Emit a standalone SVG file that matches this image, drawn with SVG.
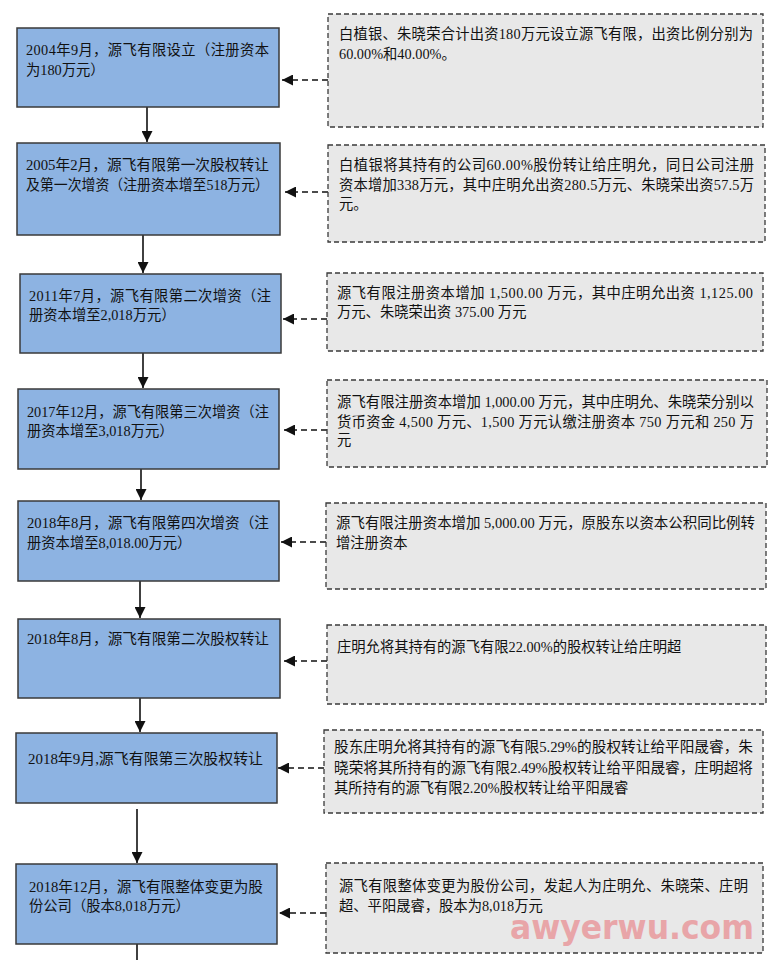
<svg xmlns="http://www.w3.org/2000/svg" width="782" height="960" viewBox="0 0 782 960">
<style>
.bg{fill:#ffffff}
.step{fill:#8DB3E2;stroke:#3a3a3a;stroke-width:1.5}
.note{fill:#E8E8E8;stroke:#3a3a3a;stroke-width:1.3;stroke-dasharray:5 3}
.t{font-family:"Liberation Serif","Noto Sans CJK SC",serif;font-size:14.3px;fill:#111}
.flow{stroke:#111;stroke-width:1.6;fill:none}
.link{stroke:#111;stroke-width:1.6;fill:none;stroke-dasharray:6 4}
.wm{font-family:"DejaVu Sans","Liberation Sans",sans-serif;font-weight:bold;font-size:33px;fill:#E89A9E;opacity:0.85}
</style>
<defs>
<marker id="ah" markerUnits="userSpaceOnUse" markerWidth="11" markerHeight="11" refX="10" refY="5" orient="auto" viewBox="0 0 10 10">
<path d="M0,0 L10,5 L0,10 Z" fill="#111"/>
</marker>
</defs>
<rect class="bg" x="0" y="0" width="782" height="960"/>

<g id="connectors">
<line class="flow" x1="147" y1="107" x2="147" y2="142" marker-end="url(#ah)"/>
<line class="flow" x1="143" y1="235" x2="143" y2="273" marker-end="url(#ah)"/>
<line class="flow" x1="143" y1="353" x2="143" y2="388" marker-end="url(#ah)"/>
<line class="flow" x1="141" y1="469" x2="141" y2="500" marker-end="url(#ah)"/>
<line class="flow" x1="140" y1="581" x2="140" y2="618" marker-end="url(#ah)"/>
<line class="flow" x1="140" y1="698" x2="140" y2="732" marker-end="url(#ah)"/>
<line class="flow" x1="137" y1="809" x2="137" y2="863" marker-end="url(#ah)"/>
<line class="flow" x1="137" y1="944" x2="137" y2="960"/>
<line class="link" x1="328" y1="80" x2="282" y2="80" marker-end="url(#ah)"/>
<line class="link" x1="328" y1="192" x2="285" y2="192" marker-end="url(#ah)"/>
<line class="link" x1="327" y1="319" x2="283" y2="319" marker-end="url(#ah)"/>
<line class="link" x1="327" y1="430" x2="284" y2="430" marker-end="url(#ah)"/>
<line class="link" x1="326" y1="542" x2="281" y2="542" marker-end="url(#ah)"/>
<line class="link" x1="327" y1="661" x2="284" y2="661" marker-end="url(#ah)"/>
<line class="link" x1="324" y1="768" x2="278" y2="768" marker-end="url(#ah)"/>
<line class="link" x1="326" y1="913" x2="279" y2="913" marker-end="url(#ah)"/>
</g>

<g id="step1">
<rect class="step" x="17" y="28" width="262" height="79"/>
<text class="t" x="26" y="55" textLength="243" lengthAdjust="spacing">2004年9月，源飞有限设立（注册资本</text>
<text class="t" x="26" y="75">为180万元）</text>
</g>
<g id="note1">
<rect class="note" x="328" y="14" width="435" height="113"/>
<text class="t" x="339" y="39" textLength="414" lengthAdjust="spacing">白植银、朱晓荣合计出资180万元设立源飞有限，出资比例分别为</text>
<text class="t" x="339" y="59">60.00%和40.00%。</text>
</g>

<g id="step2">
<rect class="step" x="17" y="143" width="263" height="92"/>
<text class="t" x="26" y="170" textLength="243" lengthAdjust="spacingAndGlyphs">2005年2月，源飞有限第一次股权转让</text>
<text class="t" x="26" y="190" textLength="243" lengthAdjust="spacingAndGlyphs">及第一次增资（注册资本增至518万元）</text>
</g>
<g id="note2">
<rect class="note" x="328" y="145" width="437" height="97"/>
<text class="t" x="339" y="170" textLength="415" lengthAdjust="spacing">白植银将其持有的公司60.00%股份转让给庄明允，同日公司注册</text>
<text class="t" x="339" y="190" textLength="415" lengthAdjust="spacing">资本增加338万元，其中庄明允出资280.5万元、朱晓荣出资57.5万</text>
<text class="t" x="339" y="209">元。</text>
</g>

<g id="step3">
<rect class="step" x="20" y="274" width="261" height="79"/>
<text class="t" x="29" y="301" textLength="242" lengthAdjust="spacing">2011年7月，源飞有限第二次增资（注</text>
<text class="t" x="29" y="320">册资本增至2,018万元）</text>
</g>
<g id="note3">
<rect class="note" x="327" y="273" width="436" height="78"/>
<text class="t" x="337" y="298" textLength="416" lengthAdjust="spacing">源飞有限注册资本增加 1,500.00 万元，其中庄明允出资 1,125.00</text>
<text class="t" x="337" y="317">万元、朱晓荣出资 375.00 万元</text>
</g>

<g id="step4">
<rect class="step" x="18" y="389" width="261" height="80"/>
<text class="t" x="27" y="417" textLength="242" lengthAdjust="spacingAndGlyphs">2017年12月，源飞有限第三次增资（注</text>
<text class="t" x="27" y="436">册资本增至3,018万元）</text>
</g>
<g id="note4">
<rect class="note" x="327" y="380" width="440" height="87"/>
<text class="t" x="337" y="407" textLength="417" lengthAdjust="spacingAndGlyphs">源飞有限注册资本增加 1,000.00 万元，其中庄明允、朱晓荣分别以</text>
<text class="t" x="337" y="427" textLength="417" lengthAdjust="spacing">货币资金 4,500 万元、1,500 万元认缴注册资本 750 万元和 250 万</text>
<text class="t" x="337" y="445">元</text>
</g>

<g id="step5">
<rect class="step" x="18" y="501" width="261" height="80"/>
<text class="t" x="27" y="528" textLength="242" lengthAdjust="spacingAndGlyphs">2018年8月，源飞有限第四次增资（注</text>
<text class="t" x="27" y="548">册资本增至8,018.00万元）</text>
</g>
<g id="note5">
<rect class="note" x="326" y="503" width="440" height="86"/>
<text class="t" x="336" y="528" textLength="419" lengthAdjust="spacingAndGlyphs">源飞有限注册资本增加 5,000.00 万元，原股东以资本公积同比例转</text>
<text class="t" x="336" y="548">增注册资本</text>
</g>

<g id="step6">
<rect class="step" x="18" y="619" width="262" height="79"/>
<text class="t" x="27" y="644" textLength="242" lengthAdjust="spacingAndGlyphs">2018年8月，源飞有限第二次股权转让</text>
</g>
<g id="note6">
<rect class="note" x="327" y="625" width="439" height="79"/>
<text class="t" x="337" y="652">庄明允将其持有的源飞有限22.00%的股权转让给庄明超</text>
</g>

<g id="step7">
<rect class="step" x="16" y="733" width="261" height="70"/>
<text class="t" x="28" y="764" textLength="235" lengthAdjust="spacingAndGlyphs">2018年9月,源飞有限第三次股权转让</text>
</g>
<g id="note7">
<rect class="note" x="324" y="730" width="439" height="83"/>
<text class="t" x="334" y="752" textLength="419" lengthAdjust="spacingAndGlyphs">股东庄明允将其持有的源飞有限5.29%的股权转让给平阳晟睿，朱</text>
<text class="t" x="334" y="773" textLength="419" lengthAdjust="spacingAndGlyphs">晓荣将其所持有的源飞有限2.49%股权转让给平阳晟睿，庄明超将</text>
<text class="t" x="334" y="793">其所持有的源飞有限2.20%股权转让给平阳晟睿</text>
</g>

<g id="step8">
<rect class="step" x="16" y="864" width="261" height="80"/>
<text class="t" x="29" y="892" textLength="234" lengthAdjust="spacingAndGlyphs">2018年12月，源飞有限整体变更为股</text>
<text class="t" x="29" y="911">份公司（股本8,018万元）</text>
</g>
<g id="note8">
<rect class="note" x="326" y="863" width="437" height="90"/>
<text class="t" x="339" y="891" textLength="409" lengthAdjust="spacing">源飞有限整体变更为股份公司，发起人为庄明允、朱晓荣、庄明</text>
<text class="t" x="339" y="911">超、平阳晟睿，股本为8,018万元</text>
</g>

<text class="wm" x="510" y="939" textLength="244" lengthAdjust="spacingAndGlyphs">awyerwu.com</text>
</svg>
